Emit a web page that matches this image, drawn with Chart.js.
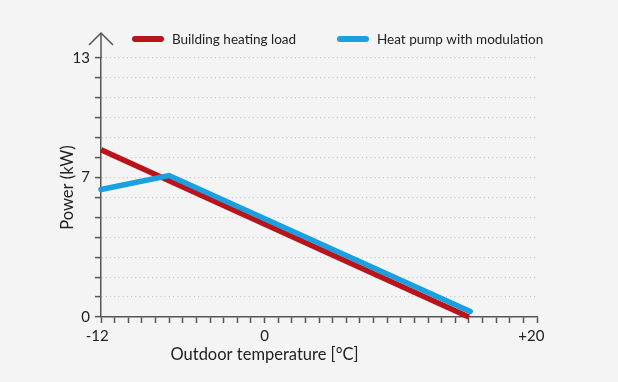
<!DOCTYPE html>
<html>
<head>
<meta charset="utf-8">
<script src="https://cdn.jsdelivr.net/npm/chart.js@4.4.0/dist/chart.umd.min.js"></script>
<style>
  html, body { margin: 0; padding: 0; background: #f4f4f4; }
  #wrap { width: 618px; height: 382px; }
</style>
</head>
<body>
<div id="wrap"><canvas id="myChart" width="618" height="382"></canvas></div>
<script>
// outdoor temperature (degC) and power (kW)
var loadTemps = [-12, 15];
var loadPower = [8.4, 0];
var pumpTemps = [-12, -7, 15.1];
var pumpPower = [6.4, 7.1, 0.28];

var seriesNames = ['Building heating load', 'Heat pump with modulation'];
var seriesColors = ['#ba1319', '#1aa0e0'];

// trailing spaces nudge the signed labels so the digits sit on the tick
var xLabels = { '-12': '-12\u2002', '0': '0', '20': '+20\u2003' };
var yLabels = { '0': '0', '7': '7', '13': '13' };

var xTitle = 'Outdoor temperature [°C]';
var yTitle = 'Power (kW)';

var axisColor = '#555555';
var textColor = '#222222';
var fontFamily = 'Lato, "Open Sans", sans-serif';

function toPoints(xs, ys) {
  return xs.map(function (x, i) { return { x: x, y: ys[i] }; });
}

// arrow on y axis, legend, axis titles
var extras = {
  id: 'extras',
  afterDraw: function (chart) {
    var ctx = chart.ctx;
    var area = chart.chartArea;
    var xs = chart.scales.x;
    ctx.save();

    // y axis continues above the top and ends in an arrow
    var ax = area.left;
    var tip = area.top - 25;
    ctx.strokeStyle = axisColor;
    ctx.lineWidth = 1.5;
    ctx.beginPath();
    ctx.moveTo(ax, area.top);
    ctx.lineTo(ax, tip);
    ctx.stroke();
    ctx.beginPath();
    ctx.moveTo(ax - 12, tip + 12);
    ctx.lineTo(ax, tip);
    ctx.lineTo(ax + 12, tip + 12);
    ctx.stroke();

    // legend
    ctx.font = '13.5px ' + fontFamily;
    ctx.textBaseline = 'middle';
    ctx.textAlign = 'left';
    ctx.lineCap = 'round';
    var legendY = area.top - 19;
    var starts = [area.left + 34, area.left + 239];
    seriesNames.forEach(function (name, i) {
      ctx.strokeStyle = seriesColors[i];
      ctx.lineWidth = 6;
      ctx.beginPath();
      ctx.moveTo(starts[i], legendY);
      ctx.lineTo(starts[i] + 26, legendY);
      ctx.stroke();
      ctx.fillStyle = textColor;
      ctx.fillText(name, starts[i] + 37, legendY + 1);
    });

    // axis titles
    ctx.font = '16.5px ' + fontFamily;
    ctx.fillStyle = textColor;
    ctx.textAlign = 'center';
    ctx.fillText(xTitle, xs.getPixelForValue(0), area.bottom + 38);

    ctx.save();
    ctx.translate(area.left - 33, (area.top + area.bottom) / 2);
    ctx.rotate(-Math.PI / 2);
    ctx.fillText(yTitle, 0, 0);
    ctx.restore();

    ctx.restore();
  }
};

var ctx = document.getElementById('myChart').getContext('2d');
var chart = new Chart(ctx, {
  type: 'line',
  data: {
    datasets: [{
      label: seriesNames[0],
      data: toPoints(loadTemps, loadPower),
      borderColor: seriesColors[0],
      borderWidth: 5.5,
      pointRadius: 0,
      tension: 0,
      clip: false,
      order: 2
    }, {
      label: seriesNames[1],
      data: toPoints(pumpTemps, pumpPower),
      borderColor: seriesColors[1],
      borderWidth: 5.5,
      borderCapStyle: 'round',
      pointRadius: 0,
      tension: 0,
      clip: false,
      order: 1
    }]
  },
  options: {
    responsive: false,
    animation: false,
    layout: { padding: { left: 0, top: 58, right: 81, bottom: 0 } },
    plugins: {
      legend: { display: false },
      tooltip: { enabled: false }
    },
    scales: {
      x: {
        type: 'linear',
        min: -12,
        max: 20,
        afterFit: function (s) { s.height = 65; },
        ticks: {
          stepSize: 1,
          maxTicksLimit: 100,
          autoSkip: false,
          maxRotation: 0,
          padding: 4,
          color: textColor,
          font: { family: fontFamily, size: 15 },
          callback: function (v) { return xLabels[v] !== undefined ? xLabels[v] : ''; }
        },
        grid: {
          drawOnChartArea: false,
          drawTicks: true,
          tickLength: 6,
          tickColor: axisColor,
          tickWidth: 1.5
        },
        border: { color: axisColor, width: 1.5 }
      },
      y: {
        min: 0,
        max: 13,
        afterFit: function (s) { s.width = 101; },
        ticks: {
          stepSize: 1,
          maxTicksLimit: 100,
          autoSkip: false,
          padding: 5,
          color: textColor,
          font: { family: fontFamily, size: 15 },
          callback: function (v) { return yLabels[v] !== undefined ? yLabels[v] : ''; }
        },
        grid: {
          drawOnChartArea: true,
          drawTicks: true,
          tickLength: 6,
          lineWidth: 1.2,
          color: function (c) { return c.tick && c.tick.value === 0 ? 'rgba(0,0,0,0)' : '#c9c9c9'; },
          tickColor: axisColor,
          tickWidth: 1.5
        },
        border: { color: axisColor, width: 1.5, dash: [1.2, 3] }
      }
    }
  },
  plugins: [extras]
});
</script>
</body>
</html>
